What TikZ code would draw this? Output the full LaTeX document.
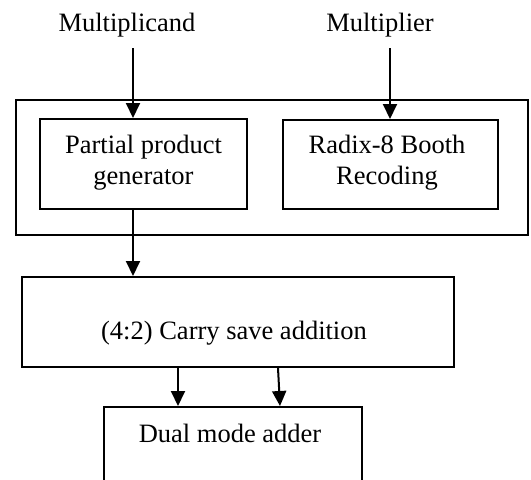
\documentclass[tikz,border=0pt]{standalone}
\usepackage{fontspec}
\setmainfont{Liberation Serif}
\usetikzlibrary{arrows.meta}
\begin{document}
\begin{tikzpicture}[x=1pt,y=-1pt,
  box/.style={draw,line width=2pt,rectangle,inner sep=0pt},
  lbl/.style={inner sep=0pt,font=\fontsize{26.5}{31}\selectfont,align=center},
  arr/.style={line width=2pt,-{Triangle[length=15pt,width=14pt]}}]
\useasboundingbox (0,0) rectangle (531,480);
\clip (0,0) rectangle (531,480);
% outer container
\node[box,minimum width=512pt,minimum height=135pt] (outer) at (272,167.5) {};
\node[box,minimum width=207pt,minimum height=90pt] (ppg) at (143.5,164) {};
\node[box,minimum width=215pt,minimum height=89pt] (rbr) at (390.5,164.5) {};
\node[box,minimum width=432pt,minimum height=90pt] (csa) at (238,322) {};
\node[box,minimum width=258pt,minimum height=110pt] (dma) at (233,462) {};
% texts
\node[lbl] (tmc) at (127,25) {Multiplicand};
\node[lbl] (tml) at (380,25) {Multiplier};
\node[lbl] (tppg) at (143.5,163) {Partial product\\generator};
\node[lbl] (trbr) at (387,163) {Radix-8 Booth\\Recoding};
\node[lbl] (tcsa) at (234,333) {(4:2) Carry save addition};
\node[lbl] (tdma) at (230,433) {Dual mode adder};
% free ends
\coordinate (s1) at (133,48);
\coordinate (s2) at (390,48);
% connectors
\draw[arr] (s1) -- (s1 |- ppg.north);
\draw[arr] (s2) -- (s2 |- rbr.north);
\draw[arr] (s1 |- ppg.south) -- (s1 |- csa.north);
\draw[arr] ([xshift=-60pt]csa.south) -- ([xshift=-55pt]dma.north);
\draw[arr] ([xshift=40pt]csa.south) -- ([xshift=47pt]dma.north);
\end{tikzpicture}
\end{document}
